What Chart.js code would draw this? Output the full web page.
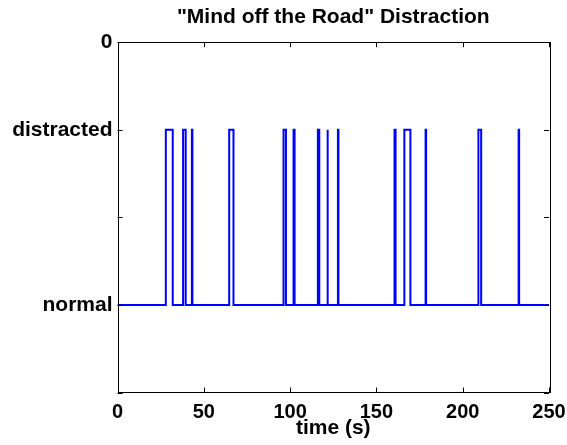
<!DOCTYPE html>
<html>
<head>
<meta charset="utf-8">
<script src="https://cdn.jsdelivr.net/npm/chart.js@4"></script>
<style>
  body { margin: 0; background: #fff; }
</style>
</head>
<body>
<canvas id="chart" width="567" height="445"></canvas>
<script>
// DATA - distraction episodes (seconds)
const pulseStart = [28.0, 38.0, 43.1, 64.7, 96.2, 102.0, 116.1, 121.5, 127.7, 160.5, 166.2, 178.5, 209.1, 232.4];
const pulseEnd   = [32.0, 39.5, 43.4, 67.2, 97.6, 102.6, 116.9, 121.9, 128.0, 161.1, 169.7, 178.8, 210.7, 232.7];
const timeMin = 0;
const timeMax = 250;
const normalLevel = 0;
const distractedLevel = 1;

// AXIS TICKS
const xTickValues = [0, 50, 100, 150, 200, 250];
const yTickValues = [1.5, 1, 0.5, 0, -0.5];
const yTickLabels = ["0", "distracted", "", "normal", ""];

// build step trace from episodes
const trace = [{ x: timeMin, y: normalLevel }];
pulseStart.forEach((s, i) => {
  trace.push({ x: s, y: normalLevel });
  trace.push({ x: s, y: distractedLevel });
  trace.push({ x: pulseEnd[i], y: distractedLevel });
  trace.push({ x: pulseEnd[i], y: normalLevel });
});
trace.push({ x: timeMax, y: normalLevel });

const FONT = "'Liberation Sans', Arial, Helvetica, sans-serif";

// frame + inward ticks like matlab
const boxPlugin = {
  id: "box",
  afterDatasetsDraw(chart) {
    const { ctx, chartArea: a, scales } = chart;
    const len = 5;
    ctx.save();
    ctx.strokeStyle = "#000";
    ctx.lineWidth = 1;
    ctx.beginPath();
    scales.x.ticks.forEach(t => {
      const px = Math.round(scales.x.getPixelForValue(t.value)) + 0.5;
      ctx.moveTo(px, a.bottom); ctx.lineTo(px, a.bottom - len);
      ctx.moveTo(px, a.top); ctx.lineTo(px, a.top + len);
    });
    scales.y.ticks.forEach(t => {
      const py = Math.round(scales.y.getPixelForValue(t.value)) + 0.5;
      ctx.moveTo(a.left, py); ctx.lineTo(a.left + len, py);
      ctx.moveTo(a.right, py); ctx.lineTo(a.right - len, py);
    });
    ctx.stroke();
    ctx.strokeRect(Math.round(a.left) + 0.5, Math.round(a.top) + 0.5,
      Math.round(a.right - a.left), Math.round(a.bottom - a.top));
    ctx.restore();
  }
};

new Chart(document.getElementById("chart"), {
  type: "line",
  data: {
    datasets: [{
      data: trace,
      borderColor: "#0000ff",
      borderWidth: 2,
      pointRadius: 0,
      tension: 0,
      fill: false
    }]
  },
  options: {
    responsive: false,
    animation: false,
    layout: { padding: { left: 0, right: 18, top: 0, bottom: 0 } },
    plugins: {
      legend: { display: false },
      tooltip: { enabled: false },
      title: {
        display: true,
        fullSize: false,
        text: '"Mind off the Road" Distraction',
        color: "#000",
        font: { family: FONT, size: 21, weight: "bold" },
        padding: { top: 5, bottom: 12 }
      }
    },
    scales: {
      x: {
        type: "linear",
        min: timeMin,
        max: timeMax,
        afterBuildTicks: s => { s.ticks = xTickValues.map(v => ({ value: v })); },
        afterFit: s => { s.height = 52.5; s.paddingLeft = 0; s.paddingRight = 0; },
        grid: { display: false, drawTicks: false, tickLength: 0 },
        border: { display: false },
        ticks: {
          color: "#000",
          padding: 8,
          maxRotation: 0,
          font: { family: FONT, size: 20, weight: "bold" }
        },
        title: {
          display: true,
          text: "time (s)",
          color: "#000",
          padding: { top: 0, bottom: 4 },
          font: { family: FONT, size: 21, weight: "bold" }
        }
      },
      y: {
        type: "linear",
        min: -0.5,
        max: 1.5,
        afterBuildTicks: s => { s.ticks = yTickValues.map(v => ({ value: v })); },
        afterFit: s => { s.width = 117.5; s.paddingTop = 0; s.paddingBottom = 0; },
        grid: { display: false, drawTicks: false, tickLength: 0 },
        border: { display: false },
        ticks: {
          color: "#000",
          padding: 5,
          font: { family: FONT, size: 21, weight: "bold" },
          callback: (v) => {
            const i = yTickValues.indexOf(v);
            return i >= 0 ? yTickLabels[i] : "";
          }
        }
      }
    }
  },
  plugins: [boxPlugin]
});
</script>
</body>
</html>
